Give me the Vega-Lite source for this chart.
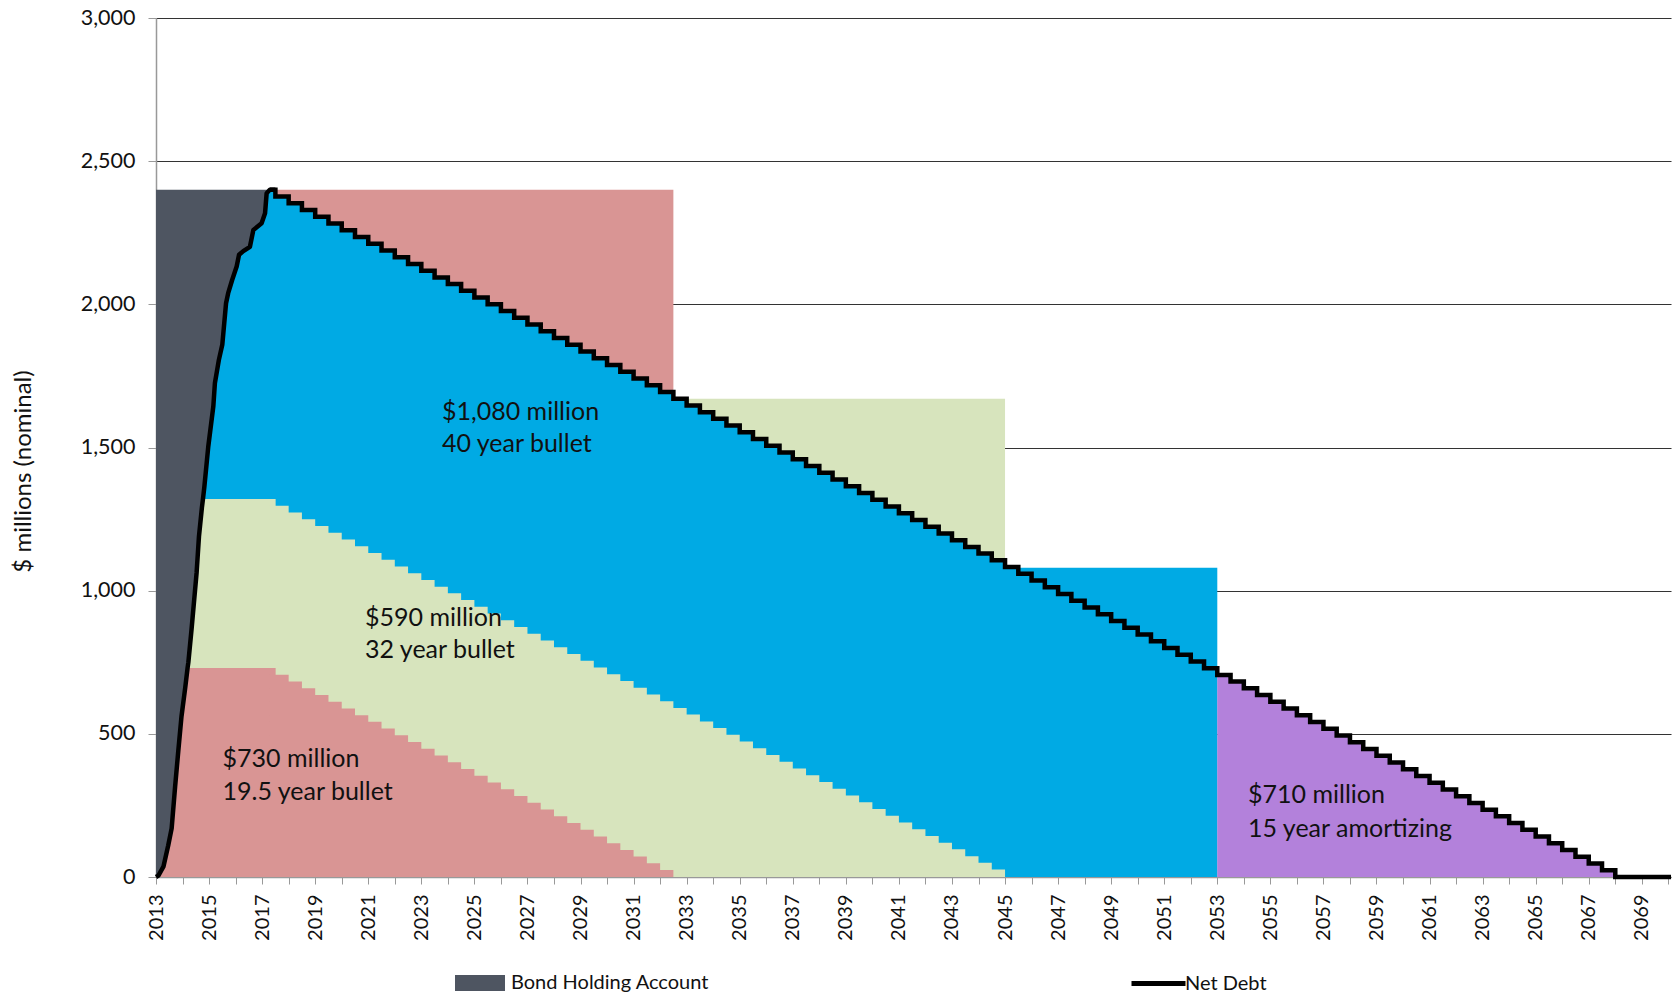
{
  "$schema": "https://vega.github.io/schema/vega-lite/v6.json",
  "autosize": "none",
  "width": 1515,
  "height": 859,
  "padding": {"left": 156, "top": 18, "right": 7, "bottom": 120},
  "background": "white",
  "config": {
    "view": {"stroke": null},
    "font": "Lato",
    "axis": {"labelFont": "Lato", "titleFont": "Lato", "labelColor": "#111", "titleColor": "#111"},
    "legend": {"labelFont": "Lato", "labelFontSize": 20, "labelColor": "#111", "labelLimit": 0}
  },
  "datasets": {
    "blocks": [
      {"block": "Bond Holding Account", "t": 2013, "v": 2400},
      {"block": "Bond Holding Account", "t": 2017.5, "v": 2400},
      {"block": "19.5 year bullet", "t": 2017.5, "v": 2400},
      {"block": "19.5 year bullet", "t": 2032.5, "v": 2400},
      {"block": "32 year bullet", "t": 2032.5, "v": 1670},
      {"block": "32 year bullet", "t": 2045, "v": 1670},
      {"block": "40 year bullet", "t": 2045, "v": 1080},
      {"block": "40 year bullet", "t": 2053, "v": 1080}
    ],
    "ramp": [
      {"t": 2013.0, "debt": 0, "g": 0, "r": 0},
      {"t": 2013.09, "debt": 5, "g": 5, "r": 5},
      {"t": 2013.28, "debt": 36, "g": 36, "r": 36},
      {"t": 2013.46, "debt": 110, "g": 110, "r": 110},
      {"t": 2013.59, "debt": 170, "g": 170, "r": 170},
      {"t": 2013.72, "debt": 315, "g": 315, "r": 315},
      {"t": 2013.84, "debt": 440, "g": 440, "r": 440},
      {"t": 2013.96, "debt": 560, "g": 560, "r": 560},
      {"t": 2014.1, "debt": 660, "g": 660, "r": 660},
      {"t": 2014.19, "debt": 730, "g": 730, "r": 730},
      {"t": 2014.22, "debt": 750, "g": 750, "r": 730},
      {"t": 2014.34, "debt": 865, "g": 865, "r": 730},
      {"t": 2014.53, "debt": 1062, "g": 1062, "r": 730},
      {"t": 2014.62, "debt": 1190, "g": 1190, "r": 730},
      {"t": 2014.73, "debt": 1290, "g": 1290, "r": 730},
      {"t": 2014.77, "debt": 1320, "g": 1320, "r": 730},
      {"t": 2014.82, "debt": 1360, "g": 1320, "r": 730},
      {"t": 2014.97, "debt": 1503, "g": 1320, "r": 730},
      {"t": 2015.16, "debt": 1643, "g": 1320, "r": 730},
      {"t": 2015.22, "debt": 1725, "g": 1320, "r": 730},
      {"t": 2015.37, "debt": 1806, "g": 1320, "r": 730},
      {"t": 2015.5, "debt": 1860, "g": 1320, "r": 730},
      {"t": 2015.64, "debt": 2004, "g": 1320, "r": 730},
      {"t": 2015.72, "debt": 2039, "g": 1320, "r": 730},
      {"t": 2015.87, "debt": 2085, "g": 1320, "r": 730},
      {"t": 2016.04, "debt": 2132, "g": 1320, "r": 730},
      {"t": 2016.13, "debt": 2173, "g": 1320, "r": 730},
      {"t": 2016.29, "debt": 2186, "g": 1320, "r": 730},
      {"t": 2016.54, "debt": 2201, "g": 1320, "r": 730},
      {"t": 2016.67, "debt": 2260, "g": 1320, "r": 730},
      {"t": 2016.98, "debt": 2283, "g": 1320, "r": 730},
      {"t": 2017.11, "debt": 2318, "g": 1320, "r": 730},
      {"t": 2017.17, "debt": 2388, "g": 1320, "r": 730},
      {"t": 2017.29, "debt": 2400, "g": 1320, "r": 730},
      {"t": 2017.5, "debt": 2400, "g": 1320, "r": 730}
    ],
    "steps": [
      {"t": 2017.29, "debt": 2400, "g": 1320, "r": 730},
      {"t": 2017.5, "debt": 2376.5, "g": 1296.5, "r": 706.5},
      {"t": 2018.0, "debt": 2352.9, "g": 1272.9, "r": 682.9},
      {"t": 2018.5, "debt": 2329.4, "g": 1249.4, "r": 659.4},
      {"t": 2019.0, "debt": 2305.9, "g": 1225.9, "r": 635.9},
      {"t": 2019.5, "debt": 2282.4, "g": 1202.4, "r": 612.4},
      {"t": 2020.0, "debt": 2258.8, "g": 1178.8, "r": 588.8},
      {"t": 2020.5, "debt": 2235.3, "g": 1155.3, "r": 565.3},
      {"t": 2021.0, "debt": 2211.8, "g": 1131.8, "r": 541.8},
      {"t": 2021.5, "debt": 2188.2, "g": 1108.2, "r": 518.2},
      {"t": 2022.0, "debt": 2164.7, "g": 1084.7, "r": 494.7},
      {"t": 2022.5, "debt": 2141.2, "g": 1061.2, "r": 471.2},
      {"t": 2023.0, "debt": 2117.6, "g": 1037.6, "r": 447.6},
      {"t": 2023.5, "debt": 2094.1, "g": 1014.1, "r": 424.1},
      {"t": 2024.0, "debt": 2070.6, "g": 990.6, "r": 400.6},
      {"t": 2024.5, "debt": 2047.1, "g": 967.1, "r": 377.1},
      {"t": 2025.0, "debt": 2023.5, "g": 943.5, "r": 353.5},
      {"t": 2025.5, "debt": 2000.0, "g": 920.0, "r": 330.0},
      {"t": 2026.0, "debt": 1976.5, "g": 896.5, "r": 306.5},
      {"t": 2026.5, "debt": 1952.9, "g": 872.9, "r": 282.9},
      {"t": 2027.0, "debt": 1929.4, "g": 849.4, "r": 259.4},
      {"t": 2027.5, "debt": 1905.9, "g": 825.9, "r": 235.9},
      {"t": 2028.0, "debt": 1882.4, "g": 802.4, "r": 212.4},
      {"t": 2028.5, "debt": 1858.8, "g": 778.8, "r": 188.8},
      {"t": 2029.0, "debt": 1835.3, "g": 755.3, "r": 165.3},
      {"t": 2029.5, "debt": 1811.8, "g": 731.8, "r": 141.8},
      {"t": 2030.0, "debt": 1788.2, "g": 708.2, "r": 118.2},
      {"t": 2030.5, "debt": 1764.7, "g": 684.7, "r": 94.7},
      {"t": 2031.0, "debt": 1741.2, "g": 661.2, "r": 71.2},
      {"t": 2031.5, "debt": 1717.6, "g": 637.6, "r": 47.6},
      {"t": 2032.0, "debt": 1694.1, "g": 614.1, "r": 24.1},
      {"t": 2032.5, "debt": 1670.6, "g": 590.6, "r": 0},
      {"t": 2033.0, "debt": 1647.1, "g": 567.1},
      {"t": 2033.5, "debt": 1623.5, "g": 543.5},
      {"t": 2034.0, "debt": 1600.0, "g": 520.0},
      {"t": 2034.5, "debt": 1576.5, "g": 496.5},
      {"t": 2035.0, "debt": 1552.9, "g": 472.9},
      {"t": 2035.5, "debt": 1529.4, "g": 449.4},
      {"t": 2036.0, "debt": 1505.9, "g": 425.9},
      {"t": 2036.5, "debt": 1482.4, "g": 402.4},
      {"t": 2037.0, "debt": 1458.8, "g": 378.8},
      {"t": 2037.5, "debt": 1435.3, "g": 355.3},
      {"t": 2038.0, "debt": 1411.8, "g": 331.8},
      {"t": 2038.5, "debt": 1388.2, "g": 308.2},
      {"t": 2039.0, "debt": 1364.7, "g": 284.7},
      {"t": 2039.5, "debt": 1341.2, "g": 261.2},
      {"t": 2040.0, "debt": 1317.6, "g": 237.6},
      {"t": 2040.5, "debt": 1294.1, "g": 214.1},
      {"t": 2041.0, "debt": 1270.6, "g": 190.6},
      {"t": 2041.5, "debt": 1247.1, "g": 167.1},
      {"t": 2042.0, "debt": 1223.5, "g": 143.5},
      {"t": 2042.5, "debt": 1200.0, "g": 120.0},
      {"t": 2043.0, "debt": 1176.5, "g": 96.5},
      {"t": 2043.5, "debt": 1152.9, "g": 72.9},
      {"t": 2044.0, "debt": 1129.4, "g": 49.4},
      {"t": 2044.5, "debt": 1105.9, "g": 25.9},
      {"t": 2045.0, "debt": 1082.4, "g": 0},
      {"t": 2045.5, "debt": 1058.8},
      {"t": 2046.0, "debt": 1035.3},
      {"t": 2046.5, "debt": 1011.8},
      {"t": 2047.0, "debt": 988.2},
      {"t": 2047.5, "debt": 964.7},
      {"t": 2048.0, "debt": 941.2},
      {"t": 2048.5, "debt": 917.6},
      {"t": 2049.0, "debt": 894.1},
      {"t": 2049.5, "debt": 870.6},
      {"t": 2050.0, "debt": 847.1},
      {"t": 2050.5, "debt": 823.5},
      {"t": 2051.0, "debt": 800.0},
      {"t": 2051.5, "debt": 776.5},
      {"t": 2052.0, "debt": 752.9},
      {"t": 2052.5, "debt": 729.4},
      {"t": 2053.0, "debt": 705.9},
      {"t": 2053.5, "debt": 682.4},
      {"t": 2054.0, "debt": 658.8},
      {"t": 2054.5, "debt": 635.3},
      {"t": 2055.0, "debt": 611.8},
      {"t": 2055.5, "debt": 588.2},
      {"t": 2056.0, "debt": 564.7},
      {"t": 2056.5, "debt": 541.2},
      {"t": 2057.0, "debt": 517.6},
      {"t": 2057.5, "debt": 494.1},
      {"t": 2058.0, "debt": 470.6},
      {"t": 2058.5, "debt": 447.1},
      {"t": 2059.0, "debt": 423.5},
      {"t": 2059.5, "debt": 400.0},
      {"t": 2060.0, "debt": 376.5},
      {"t": 2060.5, "debt": 352.9},
      {"t": 2061.0, "debt": 329.4},
      {"t": 2061.5, "debt": 305.9},
      {"t": 2062.0, "debt": 282.4},
      {"t": 2062.5, "debt": 258.8},
      {"t": 2063.0, "debt": 235.3},
      {"t": 2063.5, "debt": 211.8},
      {"t": 2064.0, "debt": 188.2},
      {"t": 2064.5, "debt": 164.7},
      {"t": 2065.0, "debt": 141.2},
      {"t": 2065.5, "debt": 117.6},
      {"t": 2066.0, "debt": 94.1},
      {"t": 2066.5, "debt": 70.6},
      {"t": 2067.0, "debt": 47.1},
      {"t": 2067.5, "debt": 23.5},
      {"t": 2068.0, "debt": 0},
      {"t": 2070.1, "debt": 0}
    ],
    "labels": [
      {"t": 2023.78, "v": 1624, "text": "$1,080 million"},
      {"t": 2023.78, "v": 1512, "text": "40 year bullet"},
      {"t": 2020.88, "v": 903, "text": "$590 million"},
      {"t": 2020.88, "v": 792, "text": "32 year bullet"},
      {"t": 2015.51, "v": 413, "text": "$730 million"},
      {"t": 2015.51, "v": 297, "text": "19.5 year bullet"},
      {"t": 2054.16, "v": 286, "text": "$710 million"},
      {"t": 2054.16, "v": 166, "text": "15 year amortizing"}
    ]
  },
  "encoding": {
    "x": {
      "field": "t", "type": "quantitative",
      "scale": {"domain": [2013, 2070.1], "nice": false, "zero": false},
      "axis": {
        "title": null,
        "values": [2013,2014,2015,2016,2017,2018,2019,2020,2021,2022,2023,2024,2025,2026,2027,2028,2029,2030,2031,2032,2033,2034,2035,2036,2037,2038,2039,2040,2041,2042,2043,2044,2045,2046,2047,2048,2049,2050,2051,2052,2053,2054,2055,2056,2057,2058,2059,2060,2061,2062,2063,2064,2065,2066,2067,2068,2069,2070],
        "format": "d",
        "labelExpr": "datum.value % 2 === 1 ? datum.label : ''",
        "labelAngle": -90,
        "labelFontSize": 20,
        "labelPadding": 10,
        "tickSize": 7,
        "tickColor": "#999",
        "domainColor": "#999",
        "domainWidth": 1.5,
        "grid": false,
        "labelOverlap": false,
        "labelFlush": false
      }
    }
  },
  "layer": [
    {
      "data": {"name": "blocks"},
      "mark": {"type": "area", "interpolate": "linear"},
      "encoding": {
        "y": {
          "field": "v", "type": "quantitative", "stack": null,
          "scale": {"domain": [0, 3000], "nice": false},
          "axis": {
            "title": "$ millions (nominal)",
            "titleFontSize": 24,
            "titleFontWeight": "normal",
            "titleAngle": -90,
            "titleX": -133,
            "titleY": 453,
            "titleAlign": "center",
            "titleBaseline": "middle",
            "values": [0, 500, 1000, 1500, 2000, 2500, 3000],
            "format": ",d",
            "labelFontSize": 21.5,
            "labelPadding": 13,
            "tickSize": 8,
            "tickColor": "#999",
            "domainColor": "#999",
            "domainWidth": 1.5,
            "grid": true,
            "gridColor": "#333",
            "gridWidth": 1.2
          }
        },
        "fill": {
          "field": "block", "type": "nominal",
          "scale": {
            "domain": ["Bond Holding Account", "19.5 year bullet", "32 year bullet", "40 year bullet"],
            "range": ["#4E5561", "#D99594", "#D7E4BD", "#00AAE4"]
          },
          "legend": {
            "title": null,
            "values": ["Bond Holding Account"],
            "orient": "none",
            "legendX": 299,
            "legendY": 940,
            "labelOffset": 6,
            "symbolType": "M-1,-0.32H1V0.32H-1Z",
            "symbolSize": 2500,
            "symbolStrokeWidth": 0,
            "symbolOpacity": 1
          }
        },
        "opacity": {"value": 1}
      }
    },
    {
      "data": {"name": "ramp"},
      "mark": {"type": "area", "interpolate": "linear", "color": "#00AAE4"},
      "encoding": {"y": {"field": "debt", "type": "quantitative", "stack": null}}
    },
    {
      "data": {"name": "steps"},
      "transform": [{"filter": "datum.t <= 2053"}],
      "mark": {"type": "area", "interpolate": "step-after", "color": "#00AAE4"},
      "encoding": {"y": {"field": "debt", "type": "quantitative", "stack": null}}
    },
    {
      "data": {"name": "steps"},
      "transform": [{"filter": "datum.t >= 2053"}],
      "mark": {"type": "area", "interpolate": "step-after", "color": "#B381DB"},
      "encoding": {"y": {"field": "debt", "type": "quantitative", "stack": null}}
    },
    {
      "data": {"name": "ramp"},
      "mark": {"type": "area", "interpolate": "linear", "color": "#D7E4BD"},
      "encoding": {"y": {"field": "g", "type": "quantitative", "stack": null}}
    },
    {
      "data": {"name": "steps"},
      "transform": [{"filter": "datum.t <= 2045"}],
      "mark": {"type": "area", "interpolate": "step-after", "color": "#D7E4BD"},
      "encoding": {"y": {"field": "g", "type": "quantitative", "stack": null}}
    },
    {
      "data": {"name": "ramp"},
      "mark": {"type": "area", "interpolate": "linear", "color": "#D99594"},
      "encoding": {"y": {"field": "r", "type": "quantitative", "stack": null}}
    },
    {
      "data": {"name": "steps"},
      "transform": [{"filter": "datum.t <= 2032.5"}],
      "mark": {"type": "area", "interpolate": "step-after", "color": "#D99594"},
      "encoding": {"y": {"field": "r", "type": "quantitative", "stack": null}}
    },
    {
      "data": {"name": "ramp"},
      "mark": {"type": "line", "interpolate": "linear", "strokeWidth": 4.5, "strokeJoin": "round"},
      "encoding": {
        "y": {"field": "debt", "type": "quantitative"},
        "stroke": {
          "datum": "Net Debt", "type": "nominal",
          "scale": {"domain": ["Net Debt"], "range": ["#000000"]},
          "legend": {
            "title": null,
            "orient": "none",
            "legendX": 973,
            "legendY": 936,
            "labelOffset": -3,
            "symbolType": "stroke",
            "symbolSize": 2916,
            "symbolStrokeWidth": 5
          }
        }
      }
    },
    {
      "data": {"name": "steps"},
      "mark": {"type": "line", "interpolate": "step-after", "strokeWidth": 4.5, "strokeJoin": "miter"},
      "encoding": {
        "y": {"field": "debt", "type": "quantitative"},
        "stroke": {"datum": "Net Debt", "type": "nominal"}
      }
    },
    {
      "data": {"name": "labels"},
      "mark": {"type": "text", "align": "left", "baseline": "middle", "font": "Lato", "fontSize": 25, "color": "#111"},
      "encoding": {
        "y": {"field": "v", "type": "quantitative"},
        "text": {"field": "text", "type": "nominal"}
      }
    }
  ]
}
